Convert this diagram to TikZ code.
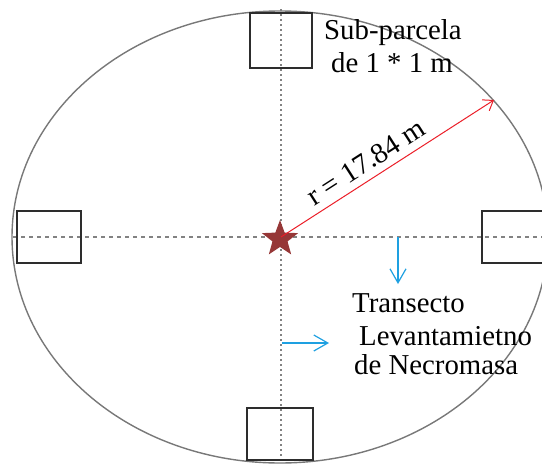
\documentclass[tikz,border=0pt]{standalone}
\usepackage{fontspec}
\setmainfont{Liberation Serif}
\usetikzlibrary{shapes.geometric,arrows.meta}
\definecolor{ringgray}{RGB}{120,120,120}
\definecolor{boxdark}{RGB}{45,45,45}
\definecolor{axisgray}{RGB}{130,130,130}
\definecolor{starred}{RGB}{150,55,55}
\definecolor{arrowred}{RGB}{235,30,40}
\definecolor{arrowblue}{RGB}{30,160,225}
\tikzset{
  ring/.style={draw=ringgray, line width=1.4pt},
  subbox/.style={draw=boxdark, line width=2pt, inner sep=0pt, minimum width=#1},
  hdash/.style={draw=axisgray, line width=1.3pt, dash pattern=on 4pt off 4pt},
  vdot/.style={draw=axisgray, line width=1.7pt, dash pattern=on 2pt off 3pt},
  centrestar/.style={star, star points=5, star point ratio=2.4, fill=starred, minimum size=38pt, inner sep=0pt},
  radius arrow/.style={draw=arrowred, line width=1pt, -{Straight Barb[length=9pt,width=13pt,line width=1pt]}},
  tarrow/.style={draw=arrowblue, line width=1.2pt, -{Straight Barb[length=14pt,width=16pt,line width=1.2pt]}},
  lbl/.style={font=\fontsize{28.8}{32}\selectfont, inner sep=0pt, text=black}
}
\begin{document}
\begin{tikzpicture}[x=1pt,y=-1pt]
\useasboundingbox (0,0) rectangle (542,464);
% plot boundary
\draw[ring] (280,237) ellipse [x radius=268, y radius=226];
% axes
\coordinate (hl) at (13,237);
\coordinate (hr) at (545,237);
\coordinate (vt) at (281,9);
\coordinate (vb) at (281,463);
\draw[hdash] (hl) -- (hr);
\draw[vdot] (vt) -- (vb);
% sub-plots
\node[subbox=62pt, minimum height=55pt] (sqT) at (281,40.5) {};
\node[subbox=64pt, minimum height=52pt] (sqL) at (49,237) {};
\node[subbox=64pt, minimum height=52pt] (sqR) at (514,237) {};
\node[subbox=66pt, minimum height=52pt] (sqB) at (280,434) {};
% centre
\node[centrestar] (ctr) at (280,239) {};
\coordinate (c0) at (281,237);
\coordinate (rim) at (494,100);
\draw[radius arrow] (c0) -- (rim);
\node[lbl, rotate=32.7] (rlab) at (366,162) {r = 17.84 m};
% transect arrows
\coordinate (a1s) at (398,237);
\coordinate (a1e) at (398,284);
\draw[tarrow] (a1s) -- (a1e);
\coordinate (a2s) at (282,343);
\coordinate (a2e) at (329,343);
\draw[tarrow] (a2s) -- (a2e);
% labels
\node[lbl, anchor=base] (sub1) at (393,39) {Sub-parcela};
\node[lbl, anchor=base] (sub2) at (392,72) {de 1 * 1 m};
\node[lbl, anchor=base west] (tr1) at (352,312) {Transecto};
\node[lbl, anchor=base west] (tr2) at (359,345) {Levantamietno};
\node[lbl, anchor=base west] (tr3) at (354,374) {de Necromasa};
\end{tikzpicture}
\end{document}
